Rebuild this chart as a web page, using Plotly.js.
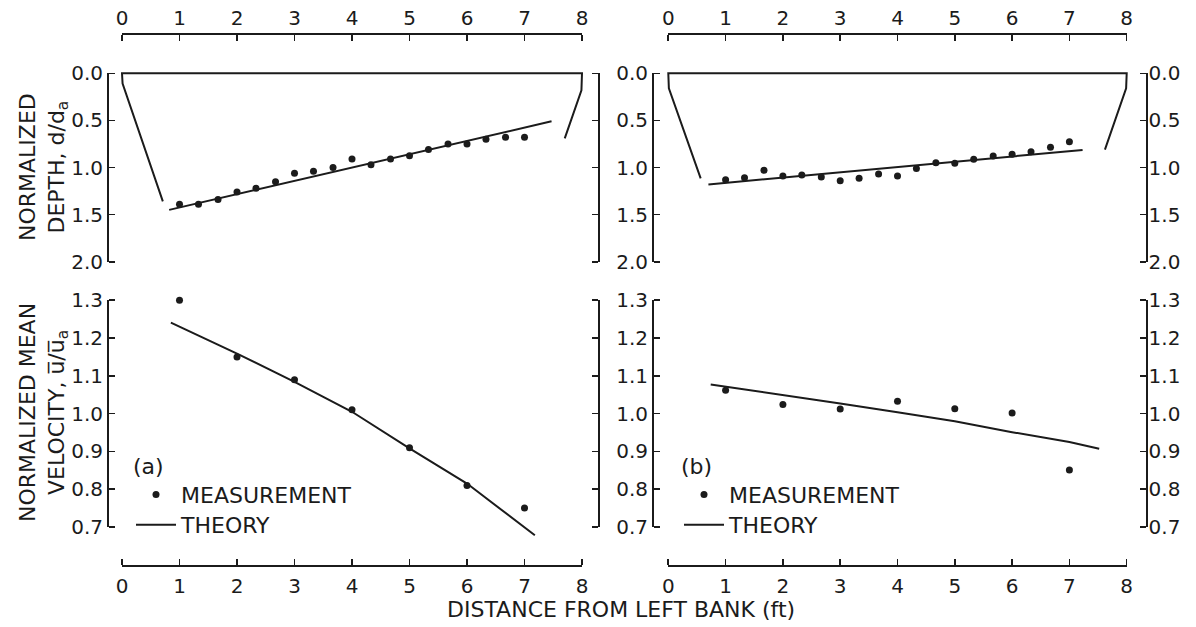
<!DOCTYPE html>
<html>
<head>
<meta charset="utf-8">
<script src="https://cdn.plot.ly/plotly-3.0.1.min.js"></script>
<style>html,body{margin:0;padding:0;background:#fff;}#chart{width:1196px;height:627px;}</style>
</head>
<body>
<div id="chart"></div>
<script>
// ---------------- data ----------------
const xTicks = [0, 1, 2, 3, 4, 5, 6, 7, 8];
const depthTicks = [0.0, 0.5, 1.0, 1.5, 2.0];
const velTicks = [0.7, 0.8, 0.9, 1.0, 1.1, 1.2, 1.3];

// cross-section outline (normalized depth)
const bankAx = [0.71, 0.01, 0, 8, 7.99, 7.70];
const bankAy = [1.36, 0.11, 0, 0, 0.18, 0.69];
const bankBx = [0.565, 0.01, 0, 8, 7.99, 7.62];
const bankBy = [1.115, 0.16, 0, 0, 0.16, 0.81];

// depth: measurement and theory
const depthMeasX = [1, 1.33, 1.67, 2, 2.33, 2.67, 3, 3.33, 3.67, 4, 4.33, 4.67, 5, 5.33, 5.67, 6, 6.33, 6.67, 7];
const depthMeasA = [1.39, 1.39, 1.34, 1.26, 1.22, 1.15, 1.06, 1.04, 1.00, 0.91, 0.97, 0.91, 0.875, 0.81, 0.75, 0.75, 0.70, 0.68, 0.68];
const depthMeasB = [1.13, 1.11, 1.03, 1.09, 1.08, 1.10, 1.14, 1.115, 1.07, 1.09, 1.01, 0.95, 0.955, 0.913, 0.878, 0.86, 0.832, 0.786, 0.726];
const depthTheoryAx = [0.82, 7.47];
const depthTheoryAy = [1.45, 0.51];
const depthTheoryBx = [0.70, 7.23];
const depthTheoryBy = [1.18, 0.814];

// velocity: measurement and theory
const velMeasX = [1, 2, 3, 4, 5, 6, 7];
const velMeasA = [1.30, 1.15, 1.09, 1.01, 0.91, 0.81, 0.75];
const velMeasB = [1.062, 1.024, 1.012, 1.033, 1.013, 1.002, 0.851];
const velTheoryAx = [0.85, 2, 3, 4, 5, 6, 7.18];
const velTheoryAy = [1.241, 1.159, 1.084, 1.005, 0.908, 0.815, 0.678];
const velTheoryBx = [0.74, 2, 3, 4, 5, 6, 7, 7.52];
const velTheoryBy = [1.077, 1.05, 1.027, 1.004, 0.98, 0.951, 0.925, 0.907];

// ---------------- layout geometry (pixels) ----------------
const W = 1196, H = 627;
const fx = p => p / W;
const fy = p => 1 - p / H;
const X0a = 122, X8a = 582, X0b = 668.3, X8b = 1126.7;
const Y0d = 73.3, Y2d = 261.7, Y13 = 300.3, Y07 = 527;
const TOPY = 33, BOTY = 565;
const LAa = 107, RAa = 598, LAb = 652, RAb = 1146;
const PAD = 12;
const INK = '#1b1b1b';
const FONT = 'DejaVu Sans, sans-serif';
const ppd = (Y2d - Y0d) / 2;
const ppv = (Y07 - Y13) / 0.6;

// hidden data axes
function dataX(x0, x8, left, right, anchor) {
  const ppu = (x8 - x0) / 8;
  return {domain: [fx(left), fx(right)], range: [(left - x0) / ppu, (right - x0) / ppu], visible: false, anchor: anchor, fixedrange: true};
}
function depthY(anchor) {
  return {domain: [fy(Y2d + PAD), fy(TOPY)], range: [2 + PAD / ppd, (TOPY - Y0d) / ppd], visible: false, anchor: anchor, fixedrange: true};
}
function velY(anchor) {
  return {domain: [fy(BOTY), fy(Y13 - PAD)], range: [0.7 - (BOTY - Y07) / ppv, 1.3 + PAD / ppv], visible: false, anchor: anchor, fixedrange: true};
}
// bracket axes: free lines, ticks pointing into the panel, labels on the outer side
const axStyle = {
  showline: true, linecolor: INK, linewidth: 1.6, ticks: 'outside', ticklen: 6, tickwidth: 1.6, tickcolor: INK,
  showgrid: false, zeroline: false, fixedrange: true, anchor: 'free',
  ticklabelposition: 'inside', ticklabeloverflow: 'allow',
  tickfont: {family: FONT, size: 20, color: INK}
};
function xBracket(x0, x8, tickSide, py, standoff) {
  return Object.assign({}, axStyle, {domain: [fx(x0), fx(x8)], range: [0, 8], tickmode: 'array', tickvals: xTicks, ticktext: xTicks.map(String), side: tickSide, position: fy(py), ticklabelstandoff: standoff});
}
function depthBracket(px, tickSide, labels, standoff) {
  return Object.assign({}, axStyle, {domain: [fy(Y2d), fy(Y0d)], range: [2, 0], tickmode: 'array', tickvals: depthTicks, ticktext: depthTicks.map(v => v.toFixed(1)), side: tickSide, position: fx(px), showticklabels: labels, ticklabelstandoff: standoff});
}
function velBracket(px, tickSide, labels, standoff) {
  return Object.assign({}, axStyle, {domain: [fy(Y07), fy(Y13)], range: [0.7, 1.3], tickmode: 'array', tickvals: velTicks, ticktext: velTicks.map(v => v.toFixed(1)), side: tickSide, position: fx(px), showticklabels: labels, ticklabelstandoff: standoff});
}

const lineStyle = {color: INK, width: 2};
const markStyle = {color: INK, size: 7};
const traces = [
  // panel (a) depth
  {x: bankAx, y: bankAy, xaxis: 'x', yaxis: 'y', mode: 'lines', line: lineStyle, showlegend: false},
  {x: depthTheoryAx, y: depthTheoryAy, xaxis: 'x', yaxis: 'y', mode: 'lines', line: lineStyle, showlegend: false},
  {x: depthMeasX, y: depthMeasA, xaxis: 'x', yaxis: 'y', mode: 'markers', marker: markStyle, showlegend: false},
  // panel (b) depth
  {x: bankBx, y: bankBy, xaxis: 'x2', yaxis: 'y2', mode: 'lines', line: lineStyle, showlegend: false},
  {x: depthTheoryBx, y: depthTheoryBy, xaxis: 'x2', yaxis: 'y2', mode: 'lines', line: lineStyle, showlegend: false},
  {x: depthMeasX, y: depthMeasB, xaxis: 'x2', yaxis: 'y2', mode: 'markers', marker: markStyle, showlegend: false},
  // panel (a) velocity
  {x: velMeasX, y: velMeasA, xaxis: 'x3', yaxis: 'y3', mode: 'markers', marker: markStyle, name: 'MEASUREMENT', legend: 'legend'},
  {x: velTheoryAx, y: velTheoryAy, xaxis: 'x3', yaxis: 'y3', mode: 'lines', line: lineStyle, name: 'THEORY', legend: 'legend3'},
  // panel (b) velocity
  {x: velMeasX, y: velMeasB, xaxis: 'x4', yaxis: 'y4', mode: 'markers', marker: markStyle, name: 'MEASUREMENT', legend: 'legend2'},
  {x: velTheoryBx, y: velTheoryBy, xaxis: 'x4', yaxis: 'y4', mode: 'lines', line: lineStyle, name: 'THEORY', legend: 'legend4'}
];
// placeholder traces (one empty point) so that every bracket axis belongs to a subplot
[['x5','y'],['x6','y2'],['x7','y3'],['x8','y4'],
 ['x','y5'],['x','y6'],['x2','y7'],['x2','y8'],
 ['x3','y9'],['x3','y10'],['x4','y11'],['x4','y12']].forEach(p => {
  traces.push({x: [null], y: [null], xaxis: p[0], yaxis: p[1], mode: 'markers', marker: {opacity: 0}, showlegend: false, hoverinfo: 'skip'});
});

function legendCfg(px, py, label) {
  const cfg = {x: fx(px), y: fy(py), xanchor: 'left', yanchor: 'top', bgcolor: 'rgba(0,0,0,0)', borderwidth: 0,
    font: {family: FONT, size: 22, color: INK}, itemwidth: 40, tracegroupgap: 0, traceorder: 'normal'};
  if (label) cfg.title = {text: label, font: {family: FONT, size: 22, color: INK}};
  return cfg;
}

const layout = {
  width: W, height: H, margin: {l: 0, r: 0, t: 0, b: 0},
  paper_bgcolor: '#fff', plot_bgcolor: 'rgba(0,0,0,0)',
  font: {family: FONT, color: INK},
  xaxis: dataX(X0a, X8a, LAa, RAa, 'y'), yaxis: depthY('x'),
  xaxis2: dataX(X0b, X8b, LAb, RAb, 'y2'), yaxis2: depthY('x2'),
  xaxis3: dataX(X0a, X8a, LAa, RAa, 'y3'), yaxis3: velY('x3'),
  xaxis4: dataX(X0b, X8b, LAb, RAb, 'y4'), yaxis4: velY('x4'),
  // top scales (ticks down, labels above) and bottom scales (ticks up, labels below)
  xaxis5: xBracket(X0a, X8a, 'bottom', TOPY, 5),
  xaxis6: xBracket(X0b, X8b, 'bottom', TOPY, 5),
  xaxis7: xBracket(X0a, X8a, 'top', BOTY, 13),
  xaxis8: xBracket(X0b, X8b, 'top', BOTY, 13),
  // left scales (ticks right, labels left) and right scales (ticks left, labels right)
  yaxis5: depthBracket(LAa, 'right', true, 5),
  yaxis6: depthBracket(RAa, 'left', false, 0),
  yaxis7: depthBracket(LAb, 'right', true, 5),
  yaxis8: depthBracket(RAb, 'left', true, 2),
  yaxis9: velBracket(LAa, 'right', true, 5),
  yaxis10: velBracket(RAa, 'left', false, 0),
  yaxis11: velBracket(LAb, 'right', true, 5),
  yaxis12: velBracket(RAb, 'left', true, 2),
  legend: legendCfg(131, 445, '(a)'),
  legend2: legendCfg(679, 445, '(b)'),
  legend3: legendCfg(131, 504, null),
  legend4: legendCfg(679, 504, null),
  showlegend: true,
  annotations: [
    {text: 'NORMALIZED<br>DEPTH, d/d<sub>a</sub>', textangle: -90, xref: 'paper', yref: 'paper', x: fx(43), y: fy(167),
     xanchor: 'center', yanchor: 'middle', showarrow: false, font: {family: FONT, size: 22, color: INK}},
    {text: 'NORMALIZED MEAN<br>VELOCITY, u\u0305/u\u0305<sub>a</sub>', textangle: -90, xref: 'paper', yref: 'paper', x: fx(43), y: fy(413),
     xanchor: 'center', yanchor: 'middle', showarrow: false, font: {family: FONT, size: 22, color: INK}},
    {text: 'DISTANCE FROM LEFT BANK (ft)', xref: 'paper', yref: 'paper', x: fx(621), y: fy(609),
     xanchor: 'center', yanchor: 'middle', showarrow: false, font: {family: FONT, size: 22, color: INK}}
  ]
};

Plotly.newPlot('chart', traces, layout, {staticPlot: true, displayModeBar: false});
</script>
</body>
</html>
